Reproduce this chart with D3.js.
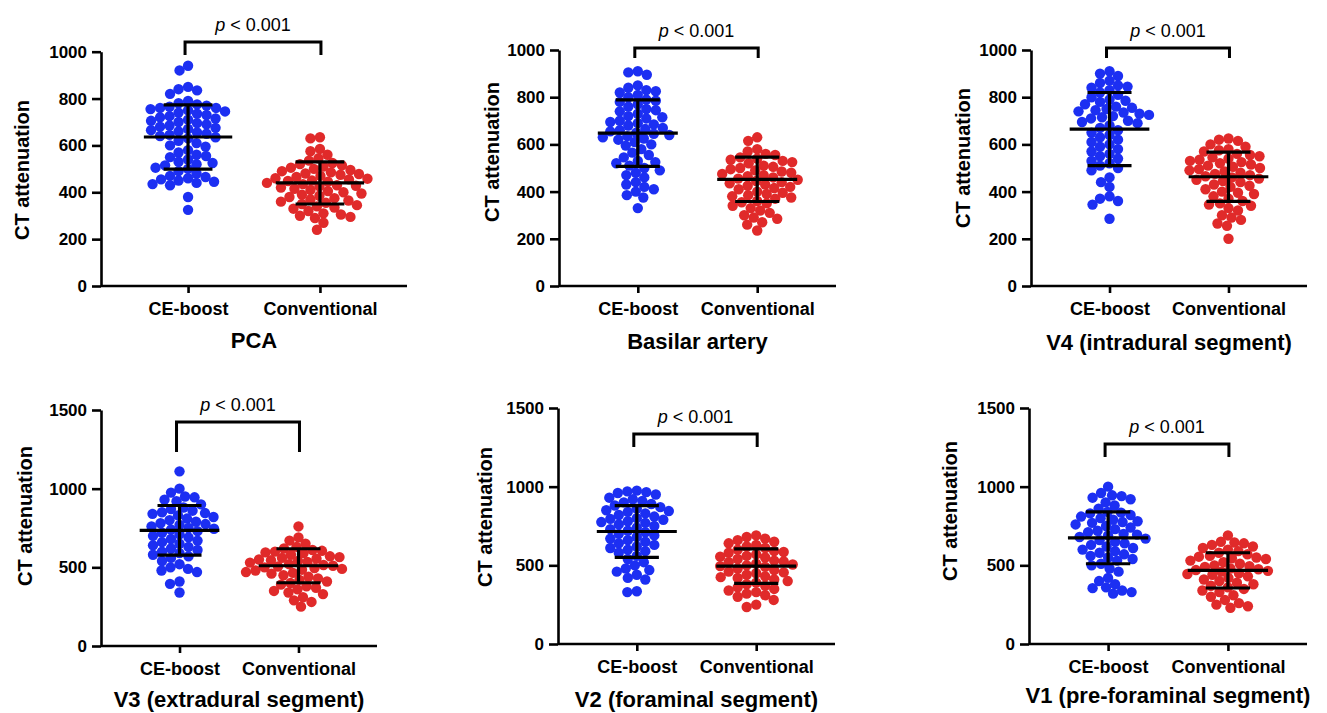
<!DOCTYPE html>
<html>
<head>
<meta charset="utf-8">
<script src="https://cdn.jsdelivr.net/npm/d3@7"></script>
<style>
  body { margin: 0; background: #fff; }
  svg { display: block; font-family: "Liberation Sans", Arial, sans-serif; }
  .axis path, .axis line { stroke: #000; stroke-width: 2.6px; }
  .axis text { font-size: 17px; font-weight: bold; fill: #000; }
  .xaxis text { font-size: 18px; }
</style>
</head>
<body>
<div id="chart"></div>
<script>
// ---- data ----
const categories = ["CE-boost", "Conventional"];
const panelTitles = ["PCA", "Basilar artery", "V4 (intradural segment)",
  "V3 (extradural segment)", "V2 (foraminal segment)", "V1 (pre-foraminal segment)"];
const yMaxes = [1000, 1000, 1000, 1500, 1500, 1500];
const yTickSteps = [200, 200, 200, 500, 500, 500];
const pLabel = "< 0.001";

const pcaCE = [940, 920, 850, 840, 835, 820, 790, 780, 775, 770, 765, 760, 760, 755, 750, 745, 740, 735, 730, 725,
  720, 715, 710, 705, 700, 695, 690, 685, 680, 675, 670, 665, 660, 655, 650, 645, 640, 635, 630, 620, 610, 600,
  595, 580, 570, 560, 555, 550, 540, 530, 525, 520, 515, 505, 500, 490, 480, 470, 465, 460, 455, 450, 445, 440,
  435, 430, 380, 325];
const pcaConv = [635, 630, 585, 575, 560, 545, 535, 525, 520, 515, 510, 505, 500, 495, 490, 485, 480, 478, 475, 470,
  465, 460, 458, 455, 450, 448, 445, 440, 435, 430, 428, 425, 420, 415, 410, 405, 400, 395, 390, 385, 380, 375,
  370, 365, 360, 355, 350, 345, 340, 335, 330, 320, 310, 305, 300, 295, 290, 270, 240];
const basilarCE = [910, 905, 895, 850, 840, 830, 825, 820, 810, 800, 790, 785, 780, 770, 760, 750, 745, 740, 730, 720,
  715, 710, 700, 695, 690, 685, 680, 670, 665, 660, 655, 650, 645, 640, 635, 630, 625, 620, 610, 600, 595, 580,
  565, 555, 545, 530, 525, 520, 510, 500, 490, 480, 470, 460, 440, 430, 420, 410, 400, 385, 375, 330];
const basilarConv = [630, 615, 580, 570, 560, 555, 545, 540, 535, 530, 525, 520, 510, 505, 500, 495, 490, 485, 480, 475,
  470, 465, 460, 455, 450, 445, 440, 435, 430, 425, 420, 415, 410, 400, 395, 390, 385, 380, 375, 370, 360, 355,
  350, 340, 330, 320, 310, 300, 290, 285, 270, 260, 235];
const v4CE = [910, 900, 890, 870, 860, 850, 845, 840, 830, 820, 810, 800, 790, 785, 780, 770, 760, 755, 750, 745,
  740, 735, 730, 725, 720, 715, 710, 700, 695, 690, 680, 670, 660, 650, 640, 630, 620, 610, 600, 590, 580, 570,
  560, 550, 540, 530, 520, 510, 500, 490, 460, 440, 420, 380, 370, 360, 345, 285];
const v4Conv = [625, 620, 615, 600, 590, 580, 575, 570, 560, 555, 550, 545, 540, 535, 530, 525, 520, 515, 510, 505,
  500, 495, 490, 485, 480, 475, 470, 465, 460, 455, 450, 445, 440, 430, 425, 420, 410, 400, 395, 390, 380, 370,
  360, 350, 345, 340, 330, 320, 300, 290, 280, 265, 255, 200];
const v3CE = [1110, 1000, 975, 950, 945, 930, 920, 900, 880, 870, 860, 850, 845, 840, 830, 820, 810, 800, 790, 780,
  775, 770, 760, 750, 745, 740, 730, 720, 710, 700, 690, 680, 670, 660, 650, 640, 630, 620, 610, 600, 590, 580,
  570, 560, 540, 520, 500, 490, 480, 470, 410, 395, 340];
const v3Conv = [760, 690, 670, 650, 630, 620, 610, 605, 600, 595, 590, 580, 570, 565, 560, 555, 550, 545, 540, 535,
  530, 520, 515, 510, 505, 500, 495, 490, 485, 480, 470, 465, 460, 450, 440, 430, 420, 410, 400, 390, 380, 370,
  360, 350, 340, 330, 310, 290, 280, 250];
const v2CE = [975, 970, 965, 960, 950, 930, 920, 910, 900, 890, 880, 870, 860, 850, 845, 840, 830, 820, 810, 800,
  795, 790, 780, 775, 770, 760, 750, 740, 730, 720, 710, 700, 690, 680, 670, 660, 650, 640, 630, 620, 610, 600,
  590, 580, 560, 540, 520, 500, 480, 470, 460, 440, 420, 410, 335, 330];
const v2Conv = [690, 680, 670, 660, 650, 640, 630, 620, 610, 600, 590, 585, 580, 570, 560, 555, 550, 540, 530, 525,
  520, 510, 505, 500, 495, 490, 480, 470, 460, 455, 450, 440, 430, 425, 420, 410, 400, 390, 380, 370, 360, 350,
  340, 330, 320, 310, 300, 280, 250, 235];
const v1CE = [1000, 960, 945, 940, 930, 920, 900, 880, 860, 840, 835, 830, 820, 810, 800, 790, 780, 775, 770, 760,
  750, 740, 730, 720, 710, 700, 695, 690, 680, 670, 660, 650, 640, 630, 620, 610, 600, 590, 580, 570, 560, 550,
  540, 530, 510, 500, 480, 460, 420, 400, 380, 360, 355, 340, 330, 320];
const v1Conv = [690, 650, 645, 640, 630, 620, 610, 600, 590, 580, 570, 560, 555, 550, 545, 540, 530, 520, 510, 500,
  495, 490, 480, 475, 470, 465, 460, 450, 445, 440, 430, 420, 410, 400, 390, 380, 370, 360, 350, 340, 330, 310,
  300, 280, 260, 250, 240, 230];

// mean and SD
const ceMean = [636, 648, 665, 735, 715, 675];
const ceSD = [137, 141, 155, 158, 165, 165];
const convMean = [440, 452, 463, 510, 495, 468];
const convSD = [90, 94, 104, 108, 110, 112];

const ceSeries = [pcaCE, basilarCE, v4CE, v3CE, v2CE, v1CE];
const convSeries = [pcaConv, basilarConv, v4Conv, v3Conv, v2Conv, v1Conv];

// ---- layout ----
const width = 1327, height = 713;
const colors = ["#1c2ff2", "#e02a2a"];
const dotR = 5.2;

const panels = [
  { ax: 101, x1: 407, yTop: 51.7, y0: 286, titleY: 348, labX: 22, labY: 170, brTop: 42, brBot: 55 },
  { ax: 559, x1: 836, yTop: 50, y0: 286, titleY: 349, labX: 492, labY: 152, brTop: 48, brBot: 58 },
  { ax: 1031, x1: 1307, yTop: 50, y0: 286, titleY: 350, labX: 963, labY: 158, brTop: 48, brBot: 58 },
  { ax: 101, x1: 377, yTop: 410, y0: 646, titleY: 707, labX: 25, labY: 516, brTop: 422, brBot: 452 },
  { ax: 558, x1: 835, yTop: 408, y0: 644, titleY: 707, labX: 485, labY: 517, brTop: 434, brBot: 447 },
  { ax: 1029, x1: 1307, yTop: 408, y0: 644, titleY: 703, labX: 950, labY: 511, brTop: 444, brBot: 457 }
];

const svg = d3.select("#chart").append("svg")
  .attr("width", width)
  .attr("height", height);

// simple beeswarm: place each dot as close to the centre as it can go
function swarm(values, y, r) {
  const D = 2 * r * 0.9;
  const placed = [];
  const pts = values.map(v => ({ v: v, y: y(v) })).sort((a, b) => a.y - b.y);
  pts.forEach(p => {
    let off = 0;
    for (let k = 0; k < 600; k++) {
      const o = (k % 2 === 0 ? 1 : -1) * Math.ceil(k / 2) * 0.5;
      if (placed.every(q => (q.x - o) * (q.x - o) + (q.y - p.y) * (q.y - p.y) >= D * D)) { off = o; break; }
    }
    p.x = off;
    placed.push(p);
  });
  return pts;
}

panels.forEach((pn, i) => {
  const g = svg.append("g");

  const x = d3.scalePoint()
    .domain(categories)
    .range([pn.ax, pn.x1])
    .padding(0.66);
  const y = d3.scaleLinear()
    .domain([0, yMaxes[i]])
    .range([pn.y0, pn.yTop]);
  const step = x.step();

  /* dots */
  [ceSeries[i], convSeries[i]].forEach((vals, j) => {
    const cx = x(categories[j]);
    g.append("g")
      .selectAll("circle")
      .data(swarm(vals, y, dotR)).enter()
      .append("circle")
      .attr("cx", d => cx + d.x)
      .attr("cy", d => d.y)
      .attr("r", dotR)
      .style("fill", colors[j]);
  });

  /* mean +/- SD */
  const stats = [[ceMean[i], ceSD[i]], [convMean[i], convSD[i]]];
  stats.forEach((s, j) => {
    const cx = x(categories[j]);
    const eb = g.append("g").attr("stroke", "#000").attr("stroke-width", 3.2);
    eb.append("line").attr("x1", cx - step * 0.335).attr("x2", cx + step * 0.335)
      .attr("y1", y(s[0])).attr("y2", y(s[0]));
    eb.append("line").attr("x1", cx).attr("x2", cx)
      .attr("y1", y(s[0] - s[1])).attr("y2", y(s[0] + s[1]));
    [s[0] - s[1], s[0] + s[1]].forEach(v => {
      eb.append("line").attr("x1", cx - step * 0.185).attr("x2", cx + step * 0.185)
        .attr("y1", y(v)).attr("y2", y(v));
    });
  });

  /* axes */
  g.append("g")
    .attr("class", "axis")
    .attr("transform", `translate(${pn.ax},0)`)
    .call(d3.axisLeft(y).tickValues(d3.range(0, yMaxes[i] + 1, yTickSteps[i]))
      .tickFormat(d3.format("d"))
      .tickSize(9).tickSizeOuter(0).tickPadding(5));

  g.append("g")
    .attr("class", "axis xaxis")
    .attr("transform", `translate(0,${pn.y0})`)
    .call(d3.axisBottom(x).tickSize(7).tickSizeOuter(0).tickPadding(9))
    .call(a => a.select(".domain").attr("d", `M${pn.ax},0H${pn.x1}`));

  /* y label */
  g.append("text")
    .attr("transform", `translate(${pn.labX + 7},${pn.labY}) rotate(-90)`)
    .attr("text-anchor", "middle")
    .style("font-size", "20px")
    .style("font-weight", "bold")
    .text("CT attenuation");

  /* panel title */
  g.append("text")
    .attr("x", (pn.ax + pn.x1) / 2)
    .attr("y", pn.titleY)
    .attr("text-anchor", "middle")
    .style("font-size", "22px")
    .style("font-weight", "bold")
    .text(panelTitles[i]);

  /* significance bracket */
  const bl = x(categories[0]) - 3, br = x(categories[1]) + 1;
  g.append("path")
    .attr("d", `M${bl},${pn.brBot}V${pn.brTop}H${br}V${pn.brBot}`)
    .attr("fill", "none")
    .attr("stroke", "#000")
    .attr("stroke-width", 3);

  const pt = g.append("text")
    .attr("x", (bl + br) / 2)
    .attr("y", pn.brTop - 11)
    .attr("text-anchor", "middle")
    .style("font-size", "18px");
  pt.append("tspan").style("font-style", "italic").text("p");
  pt.append("tspan").text(" " + pLabel);
});
</script>
</body>
</html>
